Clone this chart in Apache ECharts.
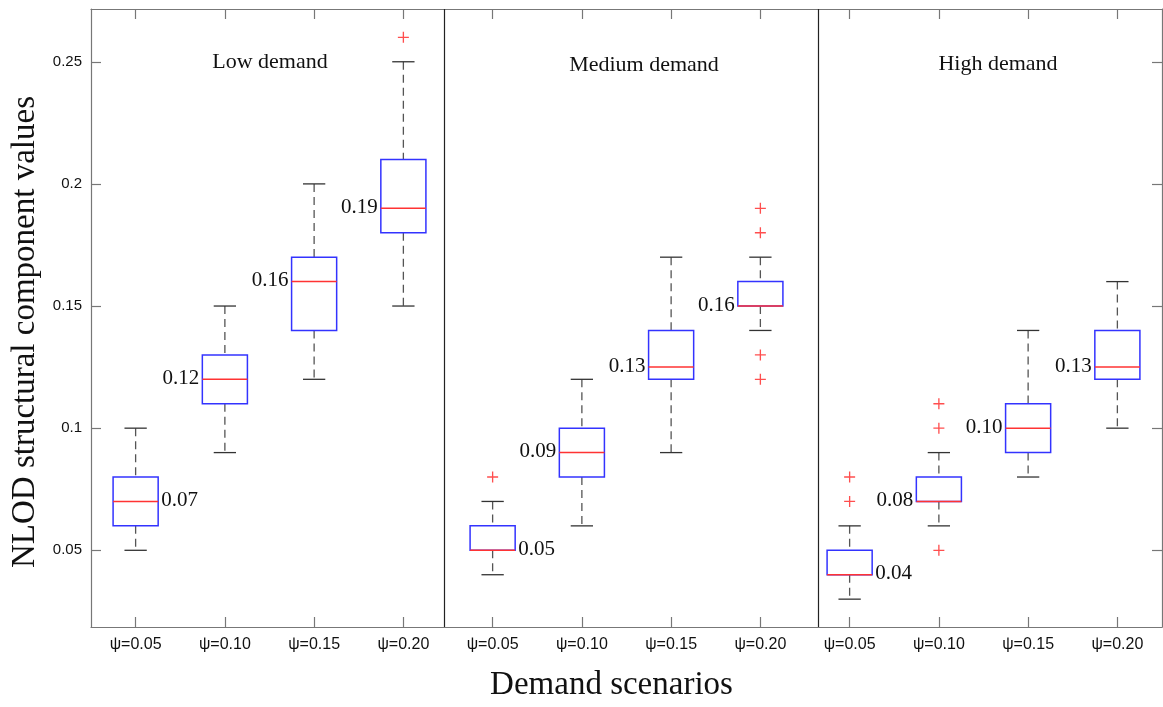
<!DOCTYPE html>
<html>
<head>
<meta charset="utf-8">
<script src="https://cdn.jsdelivr.net/npm/echarts@6/dist/echarts.min.js"></script>
<style>
  html, body { margin: 0; padding: 0; background: #fff; }
  #chart { width: 1163px; height: 707px; }
</style>
</head>
<body>
<div id="chart"></div>
<script>
// categories, 4 per demand panel
var categories = ['ψ=0.05', 'ψ=0.10', 'ψ=0.15', 'ψ=0.20',
                  'ψ=0.05', 'ψ=0.10', 'ψ=0.15', 'ψ=0.20',
                  'ψ=0.05', 'ψ=0.10', 'ψ=0.15', 'ψ=0.20'];
var panelNames = ['Low demand', 'Medium demand', 'High demand'];
// [lower whisker, Q1, median, Q3, upper whisker]
var boxValues = [
  [0.05, 0.06, 0.07, 0.08, 0.10],
  [0.09, 0.11, 0.12, 0.13, 0.15],
  [0.12, 0.14, 0.16, 0.17, 0.20],
  [0.15, 0.18, 0.19, 0.21, 0.25],
  [0.04, 0.05, 0.05, 0.06, 0.07],
  [0.06, 0.08, 0.09, 0.10, 0.12],
  [0.09, 0.12, 0.125, 0.14, 0.17],
  [0.14, 0.15, 0.15, 0.16, 0.17],
  [0.03, 0.04, 0.04, 0.05, 0.06],
  [0.06, 0.07, 0.07, 0.08, 0.09],
  [0.08, 0.09, 0.10, 0.11, 0.14],
  [0.10, 0.12, 0.125, 0.14, 0.16]
];
var boxLabels = ['0.07', '0.12', '0.16', '0.19', '0.05', '0.09', '0.13', '0.16', '0.04', '0.08', '0.10', '0.13'];
var labelSide = ['right', 'left', 'left', 'left', 'right', 'left', 'left', 'left', 'right', 'left', 'left', 'left'];
// outliers: [category index, value]
var outliers = [
  [3, 0.26],
  [4, 0.08],
  [7, 0.19], [7, 0.18], [7, 0.13], [7, 0.12],
  [8, 0.08], [8, 0.07],
  [9, 0.11], [9, 0.10], [9, 0.05]
];
var yTicks = [0.05, 0.1, 0.15, 0.2, 0.25];
var panelBreaks = [3.955, 8.146];

var serif = '"Liberation Serif", "Times New Roman", serif';
var sans = '"Liberation Sans", Arial, sans-serif';
var frameColor = '#777';

var chart = echarts.init(document.getElementById('chart'));

function renderBox(params, api) {
  var i = api.value(0);
  var lo = api.coord([i, api.value(1)]);
  var q1 = api.coord([i, api.value(2)]);
  var md = api.coord([i, api.value(3)]);
  var q3 = api.coord([i, api.value(4)]);
  var hi = api.coord([i, api.value(5)]);
  var band = api.size([1, 0])[0];
  var bw = band * 0.505;
  var cw = band * 0.25;
  var x = md[0];
  var dash = { stroke: '#555', lineWidth: 1.3, lineDash: [8, 5] };
  var cap = { stroke: '#333', lineWidth: 1.3 };
  var side = labelSide[params.dataIndex];
  return {
    type: 'group',
    children: [
      { type: 'line', shape: { x1: x, y1: hi[1], x2: x, y2: q3[1] }, style: dash },
      { type: 'line', shape: { x1: x, y1: q1[1], x2: x, y2: lo[1] }, style: dash },
      { type: 'line', shape: { x1: x - cw / 2, y1: hi[1], x2: x + cw / 2, y2: hi[1] }, style: cap },
      { type: 'line', shape: { x1: x - cw / 2, y1: lo[1], x2: x + cw / 2, y2: lo[1] }, style: cap },
      { type: 'rect', shape: { x: x - bw / 2, y: q3[1], width: bw, height: q1[1] - q3[1] },
        style: { fill: '#fff', stroke: '#3333ff', lineWidth: 1.5 } },
      { type: 'line', shape: { x1: x - bw / 2, y1: md[1], x2: x + bw / 2, y2: md[1] },
        style: { stroke: '#ff3333', lineWidth: 1.5 } },
      { type: 'text', style: {
          text: boxLabels[params.dataIndex],
          x: side === 'right' ? x + bw / 2 + 3 : x - bw / 2 - 3,
          y: md[1] - 1,
          align: side === 'right' ? 'left' : 'right',
          verticalAlign: 'middle',
          font: '21px ' + serif,
          fill: '#111'
        } }
    ]
  };
}

var catTick = { show: true, inside: true, alignWithLabel: true, interval: 0, length: 10, lineStyle: { color: frameColor, width: 1.2 } };

var option = {
  animation: false,
  backgroundColor: '#fff',
  grid: { left: 91, right: 1, top: 9, bottom: 78, containLabel: false },
  xAxis: [
    {
      type: 'category', data: categories, position: 'bottom',
      axisLine: { lineStyle: { color: frameColor, width: 1.2 } },
      axisTick: catTick,
      axisLabel: { interval: 0, fontFamily: sans, fontSize: 16, color: '#111', margin: 10 },
      name: 'Demand scenarios', nameLocation: 'middle', nameGap: 42,
      nameTextStyle: { fontFamily: serif, fontSize: 33, color: '#111', padding: [0, 30, 0, 0] }
    },
    {
      type: 'category', data: categories, position: 'top',
      axisLine: { lineStyle: { color: frameColor, width: 1.2 } },
      axisTick: catTick,
      axisLabel: { show: false }
    },
    { type: 'value', min: 0, max: 12, show: false }
  ],
  yAxis: [
    {
      type: 'value', min: 0.0186, max: 0.2716, position: 'left',
      splitLine: { show: false },
      axisLine: { show: true, lineStyle: { color: frameColor, width: 1.2 } },
      axisTick: { show: true, inside: true, length: 10, customValues: yTicks, lineStyle: { color: frameColor, width: 1.2 } },
      axisLabel: { customValues: yTicks, fontFamily: sans, fontSize: 15, color: '#111', margin: 9 },
      name: 'NLOD structural component values', nameLocation: 'middle', nameGap: 47,
      nameTextStyle: { fontFamily: serif, fontSize: 33, color: '#111', padding: [0, 28, 0, 0] }
    },
    {
      type: 'value', min: 0.0186, max: 0.2716, position: 'right',
      splitLine: { show: false },
      axisLine: { show: true, lineStyle: { color: frameColor, width: 1.2 } },
      axisTick: { show: true, inside: true, length: 10, customValues: yTicks, lineStyle: { color: frameColor, width: 1.2 } },
      axisLabel: { show: false }
    }
  ],
  graphic: [
    { type: 'text', x: 270, y: 62, style: { text: panelNames[0], font: '22px ' + serif, fill: '#111', align: 'center', verticalAlign: 'middle' } },
    { type: 'text', x: 644, y: 65, style: { text: panelNames[1], font: '22px ' + serif, fill: '#111', align: 'center', verticalAlign: 'middle' } },
    { type: 'text', x: 998, y: 64, style: { text: panelNames[2], font: '22px ' + serif, fill: '#111', align: 'center', verticalAlign: 'middle' } }
  ],
  series: [
    {
      type: 'scatter', xAxisIndex: 2, yAxisIndex: 0, data: [], silent: true,
      markLine: {
        silent: true, symbol: 'none', animation: false,
        label: { show: false },
        lineStyle: { color: '#222', width: 1.2, type: 'solid' },
        data: panelBreaks.map(function (v) { return { xAxis: v }; })
      }
    },
    {
      type: 'custom', xAxisIndex: 0, yAxisIndex: 0,
      renderItem: renderBox,
      encode: { x: 0, y: [1, 2, 3, 4, 5] },
      data: boxValues.map(function (b, i) { return [i].concat(b); }),
      z: 3
    },
    {
      type: 'scatter', xAxisIndex: 0, yAxisIndex: 0,
      symbol: 'path://M4.4,0h1.2v4.4h4.4v1.2h-4.4v4.4h-1.2v-4.4h-4.4v-1.2h4.4z',
      symbolSize: 11,
      itemStyle: { color: '#ff2222' },
      data: outliers,
      z: 4
    }
  ]
};

chart.setOption(option);
</script>
</body>
</html>
